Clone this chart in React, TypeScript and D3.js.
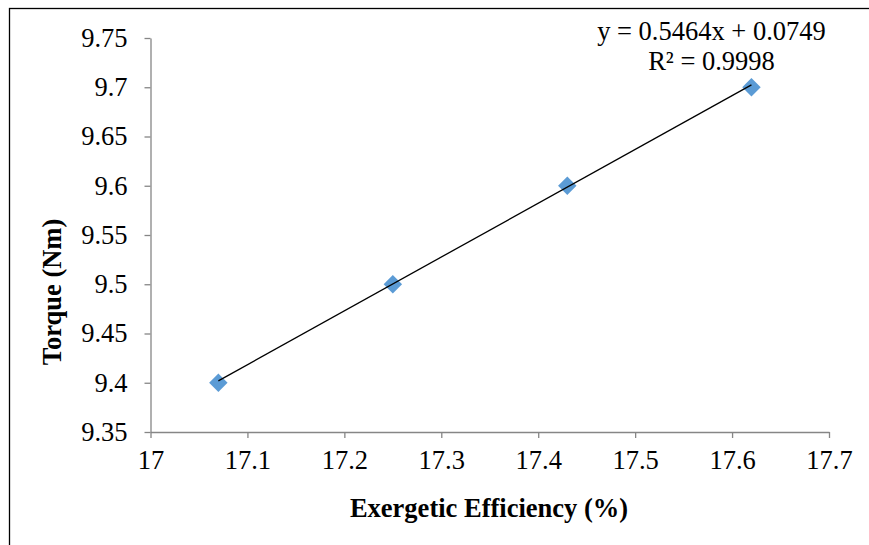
import { useEffect, useRef } from 'react';
import * as d3 from 'd3';

const efficiency = [17.07, 17.25, 17.43, 17.62];
const torque = [9.4, 9.5, 9.6, 9.7];
const xTicks = [17, 17.1, 17.2, 17.3, 17.4, 17.5, 17.6, 17.7];
const yTicks = [9.35, 9.4, 9.45, 9.5, 9.55, 9.6, 9.65, 9.7, 9.75];
const slope = 0.5464;
const intercept = 0.0749;
const equationLines = ['y = 0.5464x + 0.0749', 'R² = 0.9998'];

const width = 869;
const height = 545;
const font = '"Liberation Serif", "Times New Roman", serif';
const fs = '26.5px';

export default function App() {
  const ref = useRef<SVGSVGElement>(null);

  useEffect(() => {
    if (!ref.current) return;
    const svg = d3.select(ref.current);
    svg.selectAll('*').remove();

    const margin = { top: 38, right: 40, bottom: 113, left: 150.5 };
    const innerW = width - margin.left - margin.right;
    const innerH = height - margin.top - margin.bottom;

    svg
      .append('rect')
      .attr('x', 9.5)
      .attr('y', 8.5)
      .attr('width', width + 10)
      .attr('height', height + 10)
      .attr('fill', 'white')
      .attr('stroke', '#000')
      .attr('stroke-width', 1.3);

    const g = svg.append('g').attr('transform', `translate(${margin.left},${margin.top})`);

    const x = d3.scaleLinear().domain([17, 17.7]).range([0, innerW]);
    const y = d3.scaleLinear().domain([9.35, 9.75]).range([innerH, 0]);

    const xAxis = g
      .append('g')
      .attr('transform', `translate(0,${innerH})`)
      .call(d3.axisBottom(x).tickValues(xTicks).tickSize(6).tickSizeOuter(0).tickPadding(12).tickFormat(d3.format('')));
    const yAxis = g
      .append('g')
      .call(d3.axisLeft(y).tickValues(yTicks).tickSize(6).tickSizeOuter(0).tickPadding(17).tickFormat(d3.format('')));

    [xAxis, yAxis].forEach((a) => {
      a.attr('font-family', font).attr('font-size', 26.5);
      a.selectAll('path, line').attr('stroke', '#868686').attr('stroke-width', 1.3);
      a.selectAll('text')
        .attr('fill', '#000')
        .style('font-family', font)
        .style('font-size', fs);
    });
    xAxis.selectAll('text').attr('dy', '0.71em');

    const xs = d3.extent(efficiency) as [number, number];

    const sym = d3.symbol().type(d3.symbolSquare).size(170);
    g.selectAll('path.pt')
      .data(efficiency.map((e, i) => [e, torque[i]]))
      .join('path')
      .attr('class', 'pt')
      .attr('d', sym)
      .attr('transform', (d) => `translate(${x(d[0])},${y(d[1])}) rotate(45)`)
      .attr('fill', '#5b9bd5');

    // trendline sits on top of the markers
    g.append('line')
      .attr('x1', x(xs[0]))
      .attr('y1', y(slope * xs[0] + intercept))
      .attr('x2', x(xs[1]))
      .attr('y2', y(slope * xs[1] + intercept))
      .attr('stroke', '#000')
      .attr('stroke-width', 1.3);

    svg
      .selectAll('text.eq')
      .data(equationLines)
      .join('text')
      .attr('class', 'eq')
      .attr('x', 711.5)
      .attr('y', (_, i) => 40 + i * 30)
      .attr('text-anchor', 'middle')
      .style('font-family', font)
      .style('font-size', fs)
      .text((d) => d);

    svg
      .append('text')
      .attr('x', 489)
      .attr('y', 517)
      .attr('text-anchor', 'middle')
      .style('font-family', font)
      .style('font-size', fs)
      .style('font-weight', 'bold')
      .text('Exergetic Efficiency (%)');

    svg
      .append('text')
      .attr('transform', 'translate(61,292) rotate(-90)')
      .attr('text-anchor', 'middle')
      .style('font-family', font)
      .style('font-size', fs)
      .style('font-weight', 'bold')
      .text('Torque (Nm)');
  }, []);

  return (
    <svg
      ref={ref}
      width={width}
      height={height}
      style={{ position: 'absolute', left: 0, top: 0, background: 'white' }}
    />
  );
}
